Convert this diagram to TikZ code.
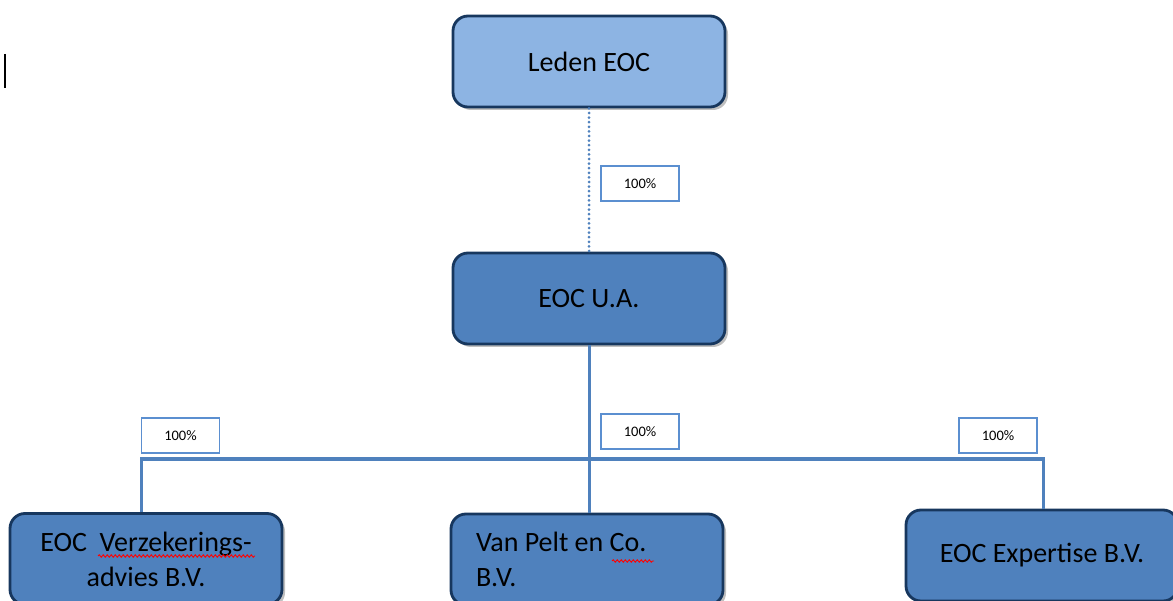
\documentclass[tikz,border=0pt]{standalone}
\usepackage{fontspec}
\setmainfont{Carlito}
\usetikzlibrary{shadows,decorations.pathmorphing}
\definecolor{boxblue}{RGB}{79,129,189}
\definecolor{lightbox}{RGB}{141,180,227}
\definecolor{navy}{RGB}{23,55,94}
\definecolor{linkblue}{RGB}{79,129,189}
\definecolor{lblblue}{RGB}{91,143,208}
\tikzset{
  orgbox/.style={draw=navy, line width=2.8pt, fill=boxblue, rounded corners=15pt,
    minimum width=272pt, minimum height=91pt, inner sep=0pt,
    font=\fontsize{28}{35}\selectfont, text=black,
    drop shadow={shadow xshift=3pt, shadow yshift=-3pt, fill=black, opacity=0.25}},
  pct/.style={draw=lblblue, line width=1.3pt, fill=white, minimum width=78pt,
    minimum height=35pt, inner sep=0pt, font=\fontsize{14.5}{16}\selectfont},
  link/.style={draw=linkblue, line width=3pt},
  spell/.style={draw=red, line width=0.9pt, decorate,
    decoration={snake, amplitude=1.2pt, segment length=4pt}}
}
\begin{document}
\begin{tikzpicture}[x=1pt,y=-1pt]
\useasboundingbox (0,0) rectangle (1173,601);
\clip (0,0) rectangle (1173,601);
\fill[white] (0,0) rectangle (1173,601);
% text cursor
\draw[line width=1.6pt] (5,54) -- (5,88);
% boxes
\node[orgbox, fill=lightbox] (leden) at (589,61.5) {Leden EOC};
\node[orgbox] (ua) at (589,298.5) {EOC U.A.};
\node[orgbox, text width=252pt, align=flush center] (ver) at (146,559) {EOC\ \ Verzekerings-\\advies B.V.};
\node[orgbox, text width=222pt, inner xsep=25pt, align=flush left] (vp) at (587,559.5) {Van Pelt en Co.\\B.V.};
\node[orgbox] (exp) at (1042,555.5) {EOC Expertise B.V.};
% connectors
\coordinate (barL) at (141,459);
\coordinate (barR) at (1043,459);
\draw[link, line cap=round, dash pattern=on 0pt off 4.6pt] (leden.south) -- (ua.north);
\draw[link] (ua.south) -- (vp.north -| ua.south);
\draw[link] (ver.north -| barL) -- (barL) -- (barR) -- (exp.north -| barR);
% labels
\node[pct] (p0) at (640,183.5) {100\%};
\node[pct] (p1) at (180.5,435.5) {100\%};
\node[pct] (p2) at (640,431.5) {100\%};
\node[pct] (p3) at (998,435.5) {100\%};
% spell check marks
\draw[spell] (98,556) -- (255,556);
\draw[spell] (612,561) -- (654,561);
\end{tikzpicture}
\end{document}
